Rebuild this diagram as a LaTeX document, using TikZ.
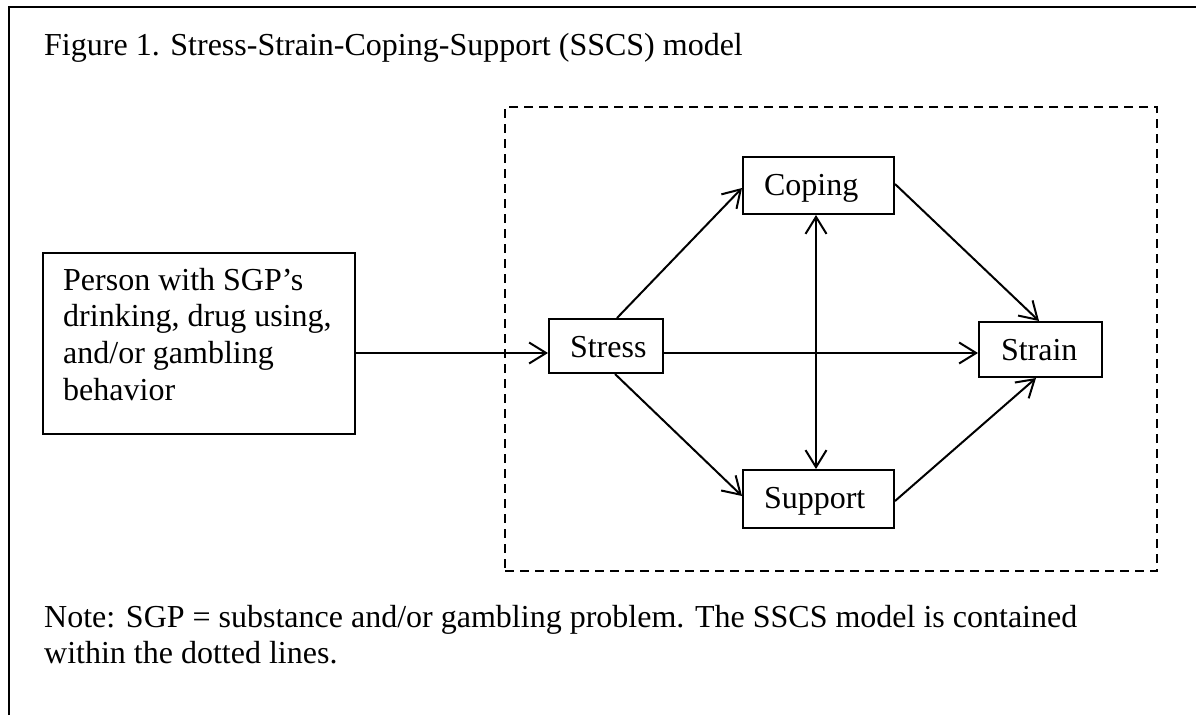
\documentclass[tikz,border=0pt]{standalone}
\usepackage{fontspec}
\setmainfont{Liberation Serif}
\usetikzlibrary{arrows.meta}
\begin{document}
\begin{tikzpicture}[x=1pt,y=-1pt,
  every node/.style={font=\fontsize{32}{36.8}\selectfont},
  box/.style={draw,line width=2pt,anchor=north west,inner ysep=0pt,inner xsep=21pt,
              align=left,text height=38pt},
  arr/.style={line width=2pt,-{Straight Barb[length=17pt,width=21pt,line width=2pt]}},
  biarr/.style={line width=2pt,{Straight Barb[length=17pt,width=21pt,line width=2pt]}-{Straight Barb[length=17pt,width=21pt,line width=2pt]}},
  txt/.style={anchor=base west,inner sep=0pt,align=left}]
\useasboundingbox (0,0) rectangle (1196,715);
% page frame (top and left edges)
\draw[line width=2pt] (9,715) -- (9,7) -- (1196,7);
% title and note (multi-line nodes are anchored at their last baseline)
\node[txt] (title) at (44,55) {Figure 1. Stress-Strain-Coping-Support (SSCS) model};
\node[txt] (note) at (44,663.8) {Note: SGP = substance and/or gambling problem. The SSCS model is contained\\within the dotted lines.};
% model boundary
\node[draw,line width=2pt,dash pattern=on 9pt off 6pt,minimum width=652pt,minimum height=464pt,anchor=north west,inner sep=0pt] (sscs) at (504,106) {};
% source box
\node[draw,line width=2pt,minimum width=312pt,minimum height=181pt,anchor=north west,inner sep=0pt] (person) at (42,252) {};
\node[txt] (persontext) at (63,400.4) {Person with SGP’s\\drinking, drug using,\\and/or gambling\\behavior};
% model boxes
\node[box,text width=72pt,text depth=16pt] (stress) at (548,318) {Stress};
\node[box,inner xsep=22pt,text width=79pt,text depth=17pt] (strain) at (978,321) {Strain};
\node[box,text width=109pt,text depth=19pt] (coping) at (742,156) {Coping};
\node[box,text width=109pt,text depth=20pt] (support) at (742,469) {Support};
% connectors
\draw[arr] ([yshift=-9.5pt]person.east) -- ([yshift=-7pt]stress.west);
\draw[arr] ([yshift=-7pt]stress.east) -- ([yshift=-3.5pt]strain.west);
\draw[arr] ([xshift=69pt]stress.north west) -- ([yshift=-2.5pt]coping.west);
\draw[arr] ([xshift=67pt]stress.south west) -- ([yshift=3pt]support.west);
\draw[arr] ([yshift=1.5pt]coping.east) -- ([xshift=-1.5pt]strain.north);
\draw[arr] ([yshift=-2pt]support.east) -- ([xshift=-4.5pt]strain.south);
\draw[biarr] ([xshift=-2.5pt]coping.south) -- ([xshift=-2.5pt]support.north);
\end{tikzpicture}
\end{document}
